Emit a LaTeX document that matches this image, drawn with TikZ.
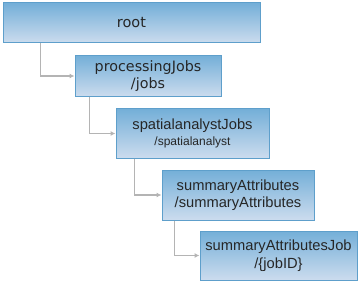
\documentclass[tikz,border=0pt]{standalone}
\usepackage{fontspec}
\setmainfont{Liberation Sans}
\newfontfamily\verd{DejaVu Sans}
\usetikzlibrary{arrows.meta}
\definecolor{cTop}{HTML}{74AFD8}
\definecolor{cBot}{HTML}{CCDCEE}
\definecolor{cBorder}{HTML}{5E9FCB}
\definecolor{cEdge}{HTML}{B4B4B4}

\begin{document}
\begin{tikzpicture}[
  x=1pt, y=-1pt,
  box/.style={draw=cBorder, line width=1pt, top color=cTop, bottom color=cBot, align=center, inner sep=1pt, text=black!85},
  ar/.style={-{Latex[length=5pt,width=5pt]}, line width=1.5pt, draw=cEdge}
]
\useasboundingbox (0,0) rectangle (358,283);

% Boxes
\node[box, minimum width=257pt, minimum height=40pt, font=\verd\fontsize{14.5}{16}\selectfont] (root) at (131.5,23) {root};
\node[box, minimum width=146pt, minimum height=41pt, font=\verd\fontsize{14.3}{17.5}\selectfont] (jobs) at (148,76) {processingJobs\\/jobs};
\node[box, minimum width=153pt, minimum height=49pt, font=\fontsize{14.7}{15.5}\selectfont] (spatial) at (192.5,133.5) {spatialanalystJobs\\{\fontsize{12}{13}\selectfont /spatialanalyst}};
\node[box, minimum width=152pt, minimum height=50pt, font=\fontsize{14.7}{17.5}\selectfont] (summary) at (238,195) {summaryAttributes\\/summaryAttributes};
\node[box, minimum width=157pt, minimum height=49pt, font=\fontsize{14.7}{17.5}\selectfont] (summaryjob) at (278.5,255.5) {summaryAttributesJob\\/\{jobID\}};

% Connectors
\draw[ar] ([xshift=38pt]root.south west) |- (jobs.west);
\draw[ar] ([xshift=15pt]jobs.south west) |- (spatial.west);
\draw[ar] ([xshift=19pt]spatial.south west) |- (summary.west);
\draw[ar] ([xshift=13pt]summary.south west) |- (summaryjob.west);
\end{tikzpicture}
\end{document}
